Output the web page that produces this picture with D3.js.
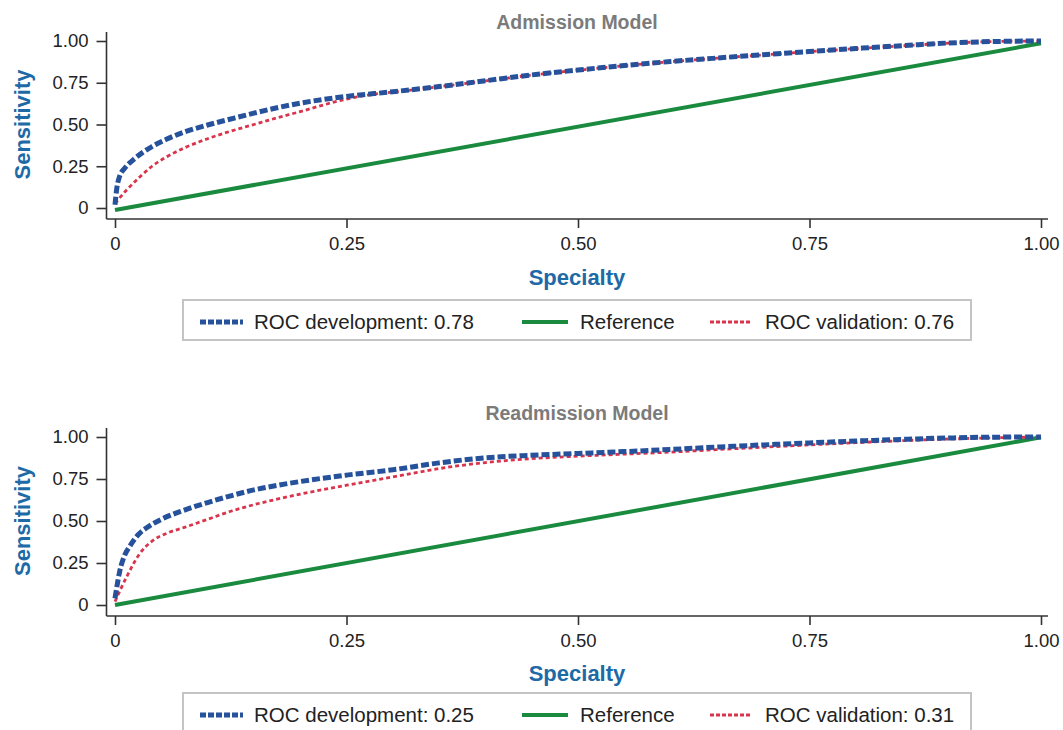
<!DOCTYPE html>
<html>
<head>
<meta charset="utf-8">
<script src="https://cdn.jsdelivr.net/npm/d3@7"></script>
<style>
  html, body { margin: 0; padding: 0; background: #ffffff; }
  svg { display: block; }
</style>
</head>
<body>
<svg id="chart" width="1063" height="730"></svg>
<script>
// ---------- data ----------
const panelTitles = ["Admission Model", "Readmission Model"];
const xTickValues = [0, 0.25, 0.5, 0.75, 1];
const yTickValues = [0, 0.25, 0.5, 0.75, 1];
const tickLabel = v => v === 0 ? "0" : v.toFixed(2);
const seriesNames = ["ROC development", "Reference", "ROC validation"];
const aucDevelopment = ["0.78", "0.25"];
const aucValidation = ["0.76", "0.31"];

// Admission model
const admDevFpr = [0, 0.002, 0.005, 0.01, 0.02, 0.03, 0.04, 0.056, 0.075, 0.1, 0.125, 0.15, 0.175, 0.2, 0.225, 0.25, 0.3, 0.35, 0.4, 0.45, 0.5, 0.55, 0.6, 0.65, 0.7, 0.75, 0.8, 0.85, 0.9, 0.95, 1.0];
const admDevTpr = [0.02, 0.12, 0.19, 0.235, 0.29, 0.333, 0.368, 0.413, 0.455, 0.497, 0.533, 0.568, 0.6, 0.628, 0.65, 0.668, 0.696, 0.727, 0.762, 0.797, 0.826, 0.853, 0.877, 0.898, 0.918, 0.937, 0.955, 0.972, 0.988, 0.997, 1.0];
const admValFpr = [0, 0.0126, 0.027, 0.04, 0.056, 0.075, 0.1, 0.125, 0.15, 0.175, 0.2, 0.225, 0.25, 0.275, 0.3, 0.35, 0.4, 0.45, 0.5, 0.55, 0.6, 0.65, 0.7, 0.75, 0.8, 0.85, 0.9, 0.95, 1.0];
const admValTpr = [0.028, 0.108, 0.187, 0.25, 0.307, 0.36, 0.415, 0.46, 0.5, 0.54, 0.577, 0.617, 0.652, 0.678, 0.694, 0.726, 0.761, 0.796, 0.825, 0.852, 0.876, 0.897, 0.917, 0.936, 0.954, 0.971, 0.987, 0.997, 1.0];
const admRefFpr = [0, 1];
const admRefTpr = [-0.012, 0.986];

// Readmission model
const readDevFpr = [0, 0.003, 0.0054, 0.01, 0.016, 0.025, 0.035, 0.05, 0.075, 0.1, 0.125, 0.15, 0.175, 0.2, 0.25, 0.3, 0.35, 0.4, 0.44, 0.5, 0.55, 0.6, 0.65, 0.7, 0.75, 0.8, 0.85, 0.9, 0.95, 1.0];
const readDevTpr = [0.04, 0.14, 0.208, 0.29, 0.35, 0.418, 0.463, 0.51, 0.565, 0.61, 0.65, 0.685, 0.712, 0.735, 0.773, 0.805, 0.846, 0.876, 0.889, 0.902, 0.913, 0.926, 0.94, 0.953, 0.965, 0.976, 0.986, 0.994, 0.999, 1.0];
const readValFpr = [0, 0.0126, 0.027, 0.04, 0.056, 0.075, 0.1, 0.125, 0.15, 0.175, 0.2, 0.25, 0.3, 0.35, 0.4, 0.45, 0.5, 0.55, 0.6, 0.65, 0.7, 0.75, 0.8, 0.85, 0.9, 0.95, 1.0];
const readValTpr = [0.02, 0.168, 0.308, 0.38, 0.427, 0.462, 0.51, 0.558, 0.597, 0.63, 0.66, 0.713, 0.762, 0.812, 0.848, 0.871, 0.886, 0.898, 0.91, 0.925, 0.939, 0.953, 0.966, 0.978, 0.988, 0.995, 1.0];
const readRefFpr = [0, 1];
const readRefTpr = [0, 0.998];

// ---------- styles ----------
const COL_DEV = "#26519b";
const COL_REF = "#1a8a3f";
const COL_VAL = "#d9344b";
const COL_AXIS = "#333333";
const COL_LABEL = "#1d6aa6";
const COL_TITLE = "#7b7b7b";
const FONT = "'Liberation Sans', Arial, Helvetica, sans-serif";

const svg = d3.select("#chart");

const zip = (xs, ys) => xs.map((x, i) => [x, ys[i]]);

const panels = [
  { title: panelTitles[0], titleY: 29, yOne: 41, yZero: 208, labelY: 285, legendY: 300,
    dev: zip(admDevFpr, admDevTpr), val: zip(admValFpr, admValTpr), ref: zip(admRefFpr, admRefTpr),
    aucDev: aucDevelopment[0], aucVal: aucValidation[0] },
  { title: panelTitles[1], titleY: 420, yOne: 437, yZero: 605, labelY: 681, legendY: 693,
    dev: zip(readDevFpr, readDevTpr), val: zip(readValFpr, readValTpr), ref: zip(readRefFpr, readRefTpr),
    aucDev: aucDevelopment[1], aucVal: aucValidation[1] }
];

panels.forEach(p => {
  const g = svg.append("g");
  const x = d3.scaleLinear().domain([0, 1]).range([115, 1041]);
  const y = d3.scaleLinear().domain([0, 1]).range([p.yZero, p.yOne]);
  const axisY = p.yZero + 11;   // x-axis line position
  const axisX = 106.5;          // y-axis line position
  const axisTop = p.yOne - 9;

  // title
  g.append("text")
    .attr("x", 577).attr("y", p.titleY)
    .attr("text-anchor", "middle")
    .attr("font-family", FONT).attr("font-weight", "bold")
    .attr("font-size", 19.5).attr("fill", COL_TITLE)
    .text(p.title);

  // x axis
  const xAxis = d3.axisBottom(x).tickValues(xTickValues).tickFormat(tickLabel)
    .tickSizeInner(9).tickSizeOuter(0).tickPadding(9);
  const xg = g.append("g").attr("transform", `translate(0,${axisY})`).call(xAxis);
  xg.select(".domain").remove();
  xg.append("line").attr("x1", axisX).attr("x2", 1048).attr("y1", 0).attr("y2", 0)
    .attr("stroke", COL_AXIS).attr("stroke-width", 1.6);
  xg.selectAll(".tick line").attr("stroke", COL_AXIS).attr("stroke-width", 1.6);
  xg.selectAll(".tick text").attr("font-family", FONT).attr("font-size", 18.5).attr("fill", "#222");

  // y axis
  const yAxis = d3.axisLeft(y).tickValues(yTickValues).tickFormat(tickLabel)
    .tickSizeInner(10).tickSizeOuter(0).tickPadding(8);
  const yg = g.append("g").attr("transform", `translate(${axisX},0)`).call(yAxis);
  yg.select(".domain").remove();
  yg.append("line").attr("x1", 0).attr("x2", 0).attr("y1", axisTop).attr("y2", axisY)
    .attr("stroke", COL_AXIS).attr("stroke-width", 1.6);
  yg.selectAll(".tick line").attr("stroke", COL_AXIS).attr("stroke-width", 1.6);
  yg.selectAll(".tick text").attr("font-family", FONT).attr("font-size", 18.5).attr("fill", "#222");

  // axis titles
  g.append("text")
    .attr("x", 577).attr("y", p.labelY)
    .attr("text-anchor", "middle")
    .attr("font-family", FONT).attr("font-weight", "bold")
    .attr("font-size", 22).attr("fill", COL_LABEL)
    .text("Specialty");
  g.append("text")
    .attr("transform", `translate(30,${(p.yOne + p.yZero) / 2}) rotate(-90)`)
    .attr("text-anchor", "middle")
    .attr("font-family", FONT).attr("font-weight", "bold")
    .attr("font-size", 22).attr("fill", COL_LABEL)
    .text("Sensitivity");

  const line = d3.line().x(d => x(d[0])).y(d => y(d[1])).curve(d3.curveMonotoneX);

  g.append("path").attr("d", line(p.ref)).attr("fill", "none")
    .attr("stroke", COL_REF).attr("stroke-width", 4);
  g.append("path").attr("d", line(p.val)).attr("fill", "none")
    .attr("stroke", COL_VAL).attr("stroke-width", 2.8).attr("stroke-dasharray", "4,3");
  g.append("path").attr("d", line(p.dev)).attr("fill", "none")
    .attr("stroke", COL_DEV).attr("stroke-width", 5).attr("stroke-dasharray", "8,3");

  // legend
  const ly = p.legendY;
  const lg = g.append("g");
  lg.append("rect").attr("x", 183).attr("y", ly).attr("width", 788).attr("height", 40)
    .attr("fill", "#fff").attr("stroke", "#c4c4c4").attr("stroke-width", 2);
  const items = [
    { x0: 200, x1: 243, tx: 254, color: COL_DEV, w: 5, dash: "6,2", label: `${seriesNames[0]}: ${p.aucDev}` },
    { x0: 522, x1: 568, tx: 580, color: COL_REF, w: 4, dash: null, label: seriesNames[1] },
    { x0: 710, x1: 752, tx: 765, color: COL_VAL, w: 2.8, dash: "4,2", label: `${seriesNames[2]}: ${p.aucVal}` }
  ];
  items.forEach(it => {
    const l = lg.append("line").attr("x1", it.x0).attr("x2", it.x1)
      .attr("y1", ly + 22).attr("y2", ly + 22)
      .attr("stroke", it.color).attr("stroke-width", it.w);
    if (it.dash) l.attr("stroke-dasharray", it.dash);
    lg.append("text").attr("x", it.tx).attr("y", ly + 29)
      .attr("font-family", FONT).attr("font-size", 20.5).attr("fill", "#222")
      .text(it.label);
  });
});
</script>
</body>
</html>
